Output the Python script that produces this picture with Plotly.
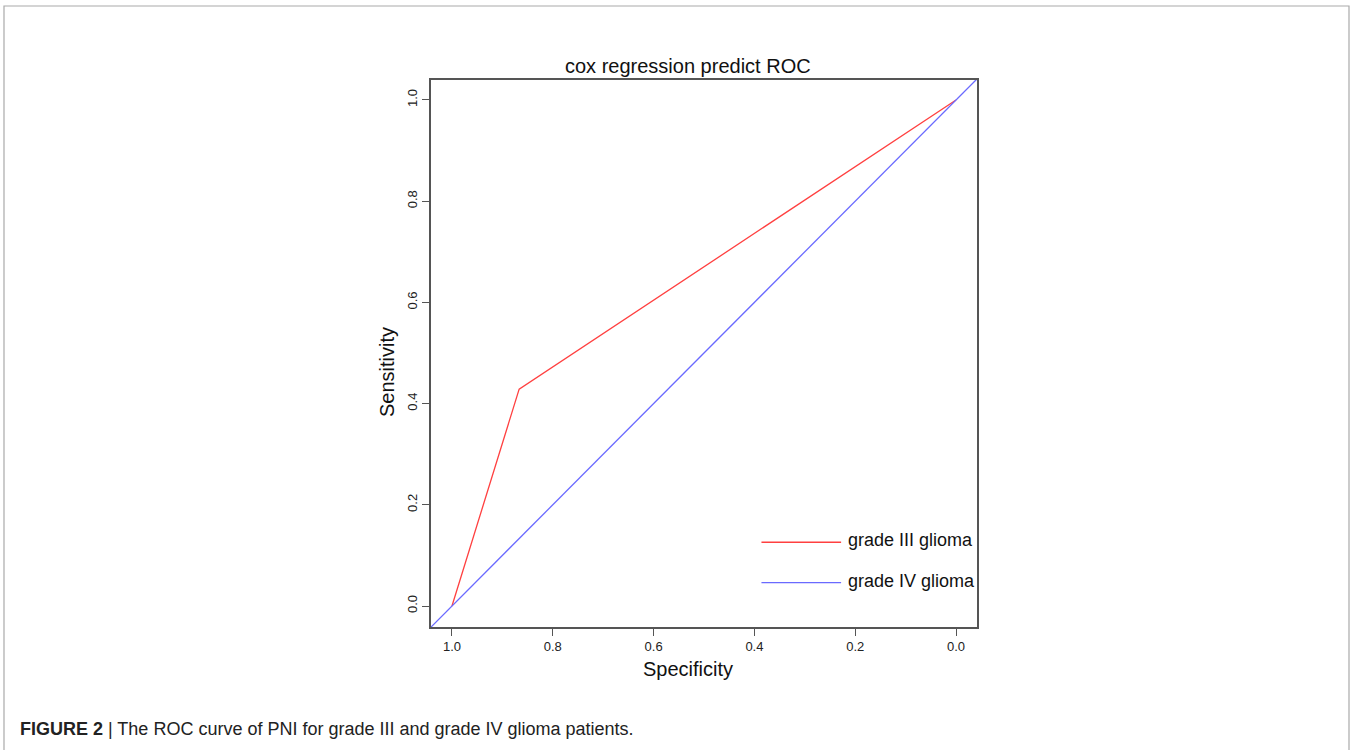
import plotly.graph_objects as go

# Data
specificity_g3 = [1.0, 0.8667, 0.0]
sensitivity_g3 = [0.0, 0.4286, 1.0]
specificity_g4 = [1.0416, -0.0416]
sensitivity_g4 = [-0.0416, 1.0416]
series_names = ["grade III glioma", "grade IV glioma"]
series_colors = ["#ff4040", "#6a6aff"]
x_ticks = [1.0, 0.8, 0.6, 0.4, 0.2, 0.0]
y_ticks = [0.0, 0.2, 0.4, 0.6, 0.8, 1.0]

W, H = 1352, 750
L, R, T, B = 431, 977, 80, 627

fig = go.Figure()
fig.add_trace(go.Scatter(x=specificity_g3, y=sensitivity_g3, mode="lines",
                         line=dict(color=series_colors[0], width=1.3),
                         name=series_names[0], showlegend=False))
fig.add_trace(go.Scatter(x=specificity_g4, y=sensitivity_g4, mode="lines",
                         line=dict(color=series_colors[1], width=1.3),
                         name=series_names[1], showlegend=False))

axis_common = dict(showline=True, mirror=True, linecolor="#555555", linewidth=1.5,
                   ticks="outside", ticklen=7, tickwidth=1.2, tickcolor="#555555",
                   showgrid=False, zeroline=False,
                   tickfont=dict(family="Liberation Sans, Arial", size=13, color="#222222"))

fig.update_layout(
    width=W, height=H, autosize=False,
    margin=dict(l=L, r=W - R, t=T, b=H - B),
    paper_bgcolor="white", plot_bgcolor="white",
    xaxis=dict(range=[1.0416, -0.0416], tickvals=x_ticks,
               ticktext=[f"{v:.1f}" for v in x_ticks], **axis_common),
    yaxis=dict(range=[-0.0415, 1.0395], tickvals=y_ticks,
               ticktext=[f"{v:.1f}" for v in y_ticks], tickangle=-90, **axis_common),
    showlegend=False,
)


def px_x(p):
    return (p - L) / (R - L)


def px_y(p):
    return (B - p) / (B - T)


txt_font = dict(family="Liberation Sans, Arial", size=20, color="#111")
# axis titles and chart title
fig.add_annotation(text="Specificity", xref="paper", yref="paper",
                   x=px_x(688), y=px_y(669), xanchor="center", yanchor="middle",
                   showarrow=False, font=txt_font)
fig.add_annotation(text="Sensitivity", xref="paper", yref="paper", textangle=-90,
                   x=px_x(387), y=px_y(372), xanchor="center", yanchor="middle",
                   showarrow=False, font=txt_font)
fig.add_annotation(text="cox regression predict ROC", xref="paper", yref="paper",
                   x=px_x(688), y=px_y(66), xanchor="center", yanchor="middle",
                   showarrow=False, font=txt_font)

# legend (drawn manually to match long R legend lines)
leg_y = [0.126, 0.046]
for name, col, yy in zip(series_names, series_colors, leg_y):
    fig.add_shape(type="line", xref="x", yref="y", x0=0.386, x1=0.228, y0=yy, y1=yy,
                  line=dict(color=col, width=1.3))
    fig.add_annotation(text=name, xref="x", yref="y", x=0.218, y=yy + 0.004,
                       xanchor="left", yanchor="middle", showarrow=False,
                       font=dict(family="Liberation Sans, Arial", size=18, color="#111"))

# outer figure border
fig.add_shape(type="rect", xref="paper", yref="paper",
              x0=px_x(4), x1=px_x(1349), y0=px_y(760), y1=px_y(6),
              line=dict(color="#aaaaaa", width=1.2), layer="below")

# caption
fig.add_annotation(
    text="<b>FIGURE 2</b> | The ROC curve of PNI for grade III and grade IV glioma patients.",
    xref="paper", yref="paper", x=px_x(18), y=px_y(729),
    xanchor="left", yanchor="middle", showarrow=False,
    font=dict(family="Liberation Sans Narrow, Arial Narrow, Liberation Sans", size=18, color="#222"))

fig.write_html("out.html", config={"displayModeBar": False},
               post_script="document.body.style.margin='0';document.body.style.padding='0';")
